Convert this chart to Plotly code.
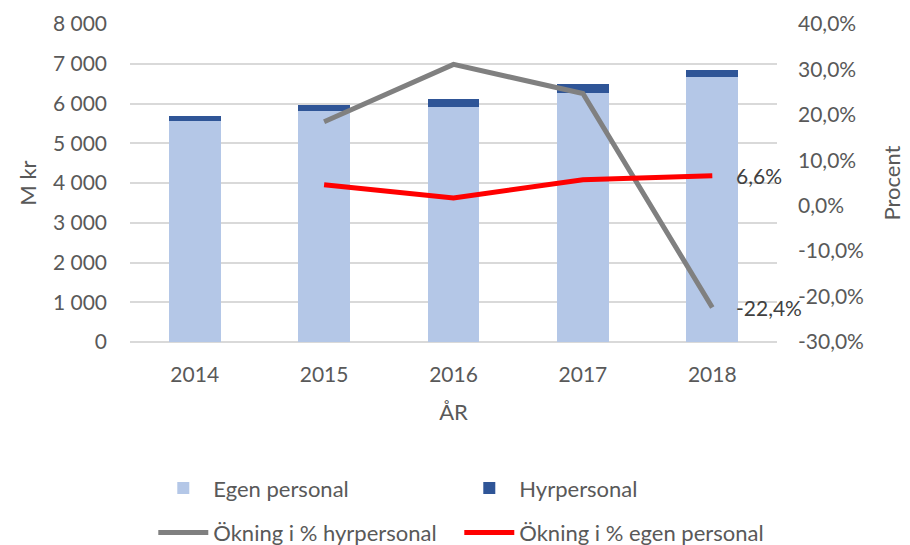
import plotly.graph_objects as go

# värden
years = ["2014", "2015", "2016", "2017", "2018"]
egen_personal = [5560, 5818, 5916, 6253, 6666]
hyrpersonal = [125, 148, 194, 242, 188]
okning_hyr = [None, 0.185, 0.311, 0.247, -0.224]
okning_egen = [None, 0.046, 0.017, 0.057, 0.066]

left_ticks = [0, 1000, 2000, 3000, 4000, 5000, 6000, 7000, 8000]
left_ticktext = ["0", "1 000", "2 000", "3 000", "4 000", "5 000", "6 000", "7 000", "8 000"]
right_ticks = [-0.3, -0.2, -0.1, 0.0, 0.1, 0.2, 0.3, 0.4]
right_ticktext = ["-30,0%", "-20,0%", "-10,0%", "0,0%", "10,0%", "20,0%", "30,0%", "40,0%"]


def pct(v):
    return f"{v * 100:.1f}%".replace(".", ",")


FONT = "Lato, Carlito, Calibri, sans-serif"
GREY = "#595959"

fig = go.Figure()
fig.add_trace(go.Bar(x=years, y=egen_personal, name="Egen personal",
                     marker=dict(color="#B4C7E7", line=dict(width=0)), legend="legend"))
fig.add_trace(go.Bar(x=years, y=hyrpersonal, name="Hyrpersonal",
                     marker=dict(color="#2F5597", line=dict(width=0)), legend="legend"))
fig.add_trace(go.Scatter(x=years, y=okning_hyr, name="Ökning i % hyrpersonal", yaxis="y2",
                         mode="lines", line=dict(color="#808080", width=5), legend="legend2"))
fig.add_trace(go.Scatter(x=years, y=okning_egen, name="Ökning i % egen personal", yaxis="y2",
                         mode="lines", line=dict(color="#FF0000", width=5), legend="legend2"))

# etiketter på sista punkten (x som kategoriindex)
for serie in (okning_egen, okning_hyr):
    fig.add_annotation(x=len(years) - 1, y=serie[-1], xref="x", yref="y2",
                       text=pct(serie[-1]), showarrow=False,
                       xanchor="left", yanchor="middle", xshift=22,
                       font=dict(size=21, color="#404040", family=FONT))

# sidan har 8px body-marginal, därför något mindre marginal till vänster
fig.update_layout(
    width=910, height=545,
    margin=dict(l=122, r=141, t=16, b=211, autoexpand=False),
    plot_bgcolor="white", paper_bgcolor="white",
    font=dict(family=FONT, size=21, color=GREY),
    barmode="stack", bargap=0.6,
    showlegend=True,
    xaxis=dict(type="category", range=[-0.5, len(years) - 0.5],
               title=dict(text="ÅR", standoff=19, font=dict(size=22)),
               showgrid=False, showline=False, ticks="", ticklabelstandoff=18),
    yaxis=dict(title=dict(text="M kr", standoff=10, font=dict(size=22)),
               range=[0, 8000], tickvals=left_ticks, ticktext=left_ticktext,
               showgrid=True, gridcolor="#D9D9D9", gridwidth=1.5,
               zeroline=True, zerolinecolor="#D9D9D9", zerolinewidth=1.5,
               ticks="", ticklabelstandoff=22, ticklabeloverflow="allow"),
    yaxis2=dict(title=dict(text="Procent", standoff=21, font=dict(size=22)),
                overlaying="y", side="right", range=[-0.3, 0.4],
                tickvals=right_ticks, ticktext=right_ticktext,
                showgrid=False, zeroline=False, ticks="", ticklabelstandoff=20,
                ticklabeloverflow="allow"),
    legend=dict(orientation="h", x=0.036, y=-0.46, xanchor="left", yanchor="middle",
                entrywidth=241, itemwidth=50, traceorder="normal",
                font=dict(size=22, color=GREY)),
    legend2=dict(orientation="h", x=0.036, y=-0.6, xanchor="left", yanchor="middle",
                 entrywidth=241, itemwidth=50, traceorder="normal",
                 font=dict(size=22, color=GREY)),
)

fig.write_html("out.html")
